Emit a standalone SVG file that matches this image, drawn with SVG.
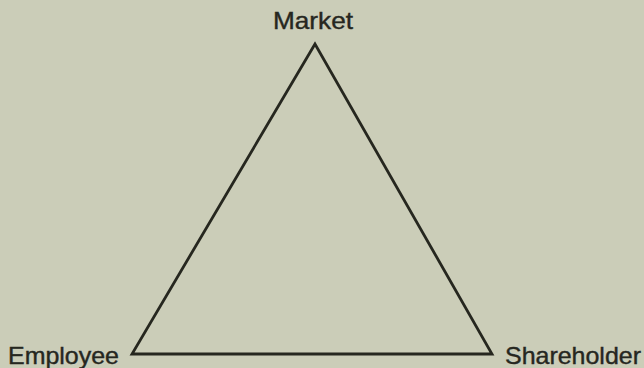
<svg xmlns="http://www.w3.org/2000/svg" width="644" height="368" viewBox="0 0 644 368">
<style>
.lbl{font-family:"Liberation Sans",Arial,sans-serif;font-size:24px;fill:#26271f;stroke:#26271f;stroke-width:0.4}
.edge{fill:none;stroke:#26271f;stroke-width:2.8;stroke-linejoin:miter}
</style>
<rect width="644" height="368" fill="#cbcdb8"/>
<g id="connectors">
<polygon class="edge" points="315,44 132,354 492,354"/>
</g>
<g id="market"><text class="lbl" x="273" y="29" textLength="80" lengthAdjust="spacingAndGlyphs">Market</text></g>
<g id="employee"><text class="lbl" x="8" y="364" textLength="111" lengthAdjust="spacingAndGlyphs">Employee</text></g>
<g id="shareholder"><text class="lbl" x="505" y="364" textLength="136" lengthAdjust="spacingAndGlyphs">Shareholder</text></g>
</svg>
